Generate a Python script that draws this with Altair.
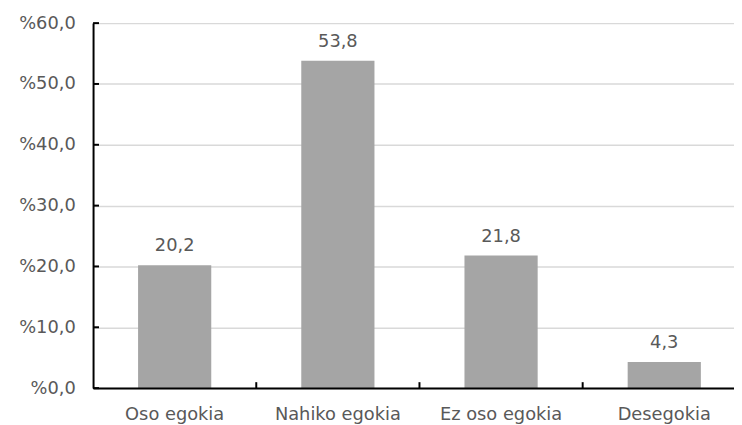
import altair as alt
import pandas as pd

categories = ["Oso egokia", "Nahiko egokia", "Ez oso egokia", "Desegokia"]
values = [20.2, 53.8, 21.8, 4.3]
y_ticks = [0, 10, 20, 30, 40, 50, 60]
boundaries = ["Nahiko egokia", "Ez oso egokia", "Desegokia"]

df = pd.DataFrame({"cat": categories, "val": values})
tick_df = pd.DataFrame({"v": y_ticks})
bnd_df = pd.DataFrame({"cat": boundaries})

FONT = "DejaVu Sans"
TXT = "#595959"
FS = 18

xscale = alt.Scale(domain=categories, range=[0, 660], paddingInner=0, paddingOuter=0)
yscale = alt.Scale(domain=[0, 60], nice=False)

x_axis = alt.Axis(title=None, labelAngle=0, ticks=False, labelPadding=18,
                  labelFont=FONT, labelFontSize=FS, labelColor=TXT,
                  domainColor="black", domainWidth=2, grid=False, zindex=1)
y_axis = alt.Axis(title=None, values=y_ticks, ticks=False, labelPadding=18,
                  labelExpr="'%' + replace(format(datum.value, '.1f'), '.', ',')",
                  labelFont=FONT, labelFontSize=FS, labelColor=TXT,
                  gridColor="#D9D9D9", gridWidth=1.5,
                  domainColor="black", domainWidth=2, zindex=0)

base = alt.Chart(df).encode(
    x=alt.X("cat:N", scale=xscale, sort=categories, axis=x_axis),
    y=alt.Y("val:Q", scale=yscale, axis=y_axis),
)

bars = base.mark_bar(size=74, color="#A5A5A5")

labels = base.transform_calculate(
    lbl="replace(format(datum.val, '.1f'), '.', ',')"
).mark_text(dy=-14, baseline="alphabetic", font=FONT, fontSize=FS, color=TXT).encode(
    text="lbl:N"
)

yticks = alt.Chart(tick_df).mark_rule(color="black", strokeWidth=2).encode(
    y=alt.Y("v:Q", scale=yscale, axis=y_axis),
    x=alt.value(0),
    x2=alt.value(6),
)

xticks = alt.Chart(bnd_df).mark_rule(color="black", strokeWidth=2).encode(
    x=alt.X("cat:N", scale=xscale, sort=categories, bandPosition=0, axis=x_axis),
    y=alt.value(369),
    y2=alt.value(363),
)

chart = alt.layer(bars, labels, yticks, xticks).properties(
    width=648,
    height=369,
    autosize=alt.AutoSizeParams(type="none"),
    padding={"left": 86, "top": 13, "right": 0, "bottom": 34},
).configure_view(stroke=None)

chart.save("out.html", embed_options={"renderer": "svg", "actions": False})
